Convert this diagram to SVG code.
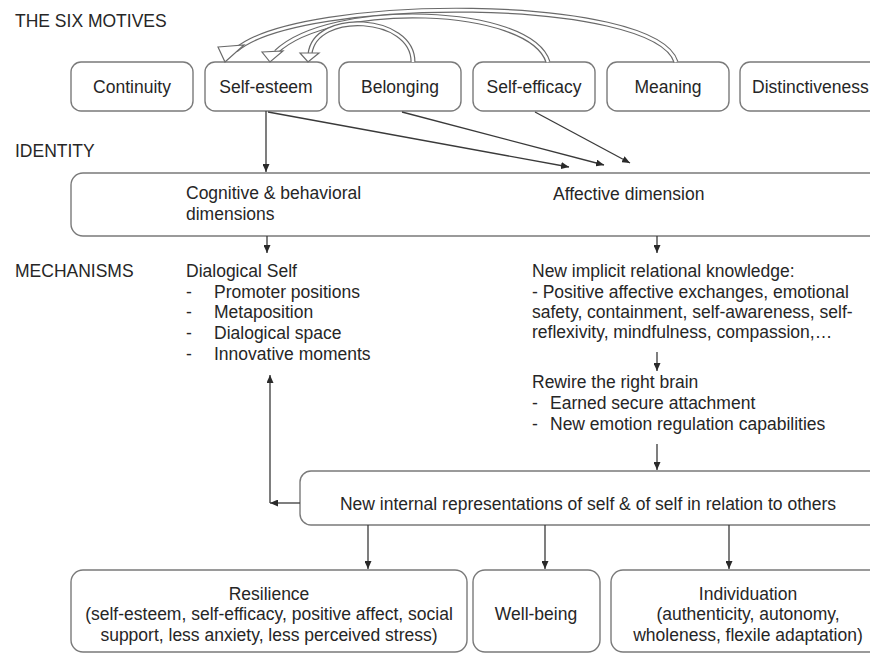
<svg xmlns="http://www.w3.org/2000/svg" width="870" height="653" viewBox="0 0 870 653">
  <style>
    text { font-family: "Liberation Sans", Arial, sans-serif; font-size: 17.5px; fill: #262626; }
    .mid { text-anchor: middle; }
    .box { fill: #ffffff; stroke: #7a7a7a; stroke-width: 1.4; }
    .conn { fill: none; stroke: #3a3a3a; stroke-width: 1.3; }
    .band-out { fill: none; stroke: #6a6a6a; stroke-width: 5; }
    .band-in { fill: none; stroke: #ffffff; stroke-width: 2.6; }
    .head { fill: #ffffff; stroke: #6a6a6a; stroke-width: 1.2; stroke-linejoin: miter; }
  </style>
  <defs>
    <marker id="arr" markerWidth="8" markerHeight="7" refX="8" refY="3.5" orient="auto" markerUnits="userSpaceOnUse">
      <path d="M0,0 L8,3.5 L0,7 z" fill="#2a2a2a"/>
    </marker>
  </defs>

  <rect width="870" height="653" fill="#ffffff"/>

  <!-- section headings -->
  <g id="headings">
    <text x="15" y="27">THE SIX MOTIVES</text>
    <text x="15" y="157">IDENTITY</text>
    <text x="15" y="277">MECHANISMS</text>
  </g>

  <!-- motive boxes -->
  <g id="continuity">
    <rect class="box" x="71" y="62" width="122" height="49" rx="10"/>
    <text class="mid" x="132" y="93">Continuity</text>
  </g>
  <g id="self-esteem">
    <rect class="box" x="205" y="62" width="122" height="49" rx="10"/>
    <text class="mid" x="266" y="93">Self-esteem</text>
  </g>
  <g id="belonging">
    <rect class="box" x="339" y="62" width="122" height="49" rx="10"/>
    <text class="mid" x="400" y="93">Belonging</text>
  </g>
  <g id="self-efficacy">
    <rect class="box" x="473" y="62" width="122" height="49" rx="10"/>
    <text class="mid" x="534" y="93">Self-efficacy</text>
  </g>
  <g id="meaning">
    <rect class="box" x="607" y="62" width="122" height="49" rx="10"/>
    <text class="mid" x="668" y="93">Meaning</text>
  </g>
  <g id="distinctiveness">
    <rect class="box" x="740" y="62" width="150" height="49" rx="10"/>
    <text x="752" y="93">Distinctiveness</text>
  </g>

  <!-- identity box -->
  <g id="identity">
    <rect class="box" x="71" y="173" width="830" height="63" rx="12"/>
    <text x="186" y="199">Cognitive &amp; behavioral</text>
    <text x="186" y="220">dimensions</text>
    <text x="553" y="200">Affective dimension</text>
  </g>

  <!-- mechanisms text blocks -->
  <g id="dialogical-self">
    <text x="186" y="277">Dialogical Self</text>
    <text x="186" y="298">-</text><text x="214" y="298">Promoter positions</text>
    <text x="186" y="318">-</text><text x="214" y="318">Metaposition</text>
    <text x="186" y="339">-</text><text x="214" y="339">Dialogical space</text>
    <text x="186" y="360">-</text><text x="214" y="360">Innovative moments</text>
  </g>
  <g id="implicit-knowledge">
    <text x="532" y="277">New implicit relational knowledge:</text>
    <text x="532" y="298">- Positive affective exchanges, emotional</text>
    <text x="532" y="318">safety, containment, self-awareness, self-</text>
    <text x="532" y="338">reflexivity, mindfulness, compassion,…</text>
  </g>
  <g id="rewire">
    <text x="532" y="388">Rewire the right brain</text>
    <text x="532" y="409">-</text><text x="550" y="409">Earned secure attachment</text>
    <text x="532" y="430">-</text><text x="550" y="430">New emotion regulation capabilities</text>
  </g>

  <!-- internal representations -->
  <g id="representations">
    <rect class="box" x="300" y="471" width="600" height="54" rx="11"/>
    <text class="mid" x="588" y="510">New internal representations of self &amp; of self in relation to others</text>
  </g>

  <!-- outcomes -->
  <g id="resilience">
    <rect class="box" x="71" y="570" width="396" height="82" rx="12"/>
    <text class="mid" x="269" y="600">Resilience</text>
    <text class="mid" x="269" y="620">(self-esteem, self-efficacy, positive affect, social</text>
    <text class="mid" x="269" y="641">support, less anxiety, less perceived stress)</text>
  </g>
  <g id="well-being">
    <rect class="box" x="473" y="570" width="127" height="82" rx="12"/>
    <text class="mid" x="536" y="620">Well-being</text>
  </g>
  <g id="individuation">
    <rect class="box" x="611" y="570" width="290" height="82" rx="12"/>
    <text class="mid" x="748" y="600">Individuation</text>
    <text class="mid" x="748" y="620">(authenticity, autonomy,</text>
    <text class="mid" x="748" y="641">wholeness, flexile adaptation)</text>
  </g>

  <!-- connectors -->
  <g id="connectors">
    <!-- curved block arrows between motives -->
    <path class="band-out" d="M676,62 C655,-5 300,-5 236,50"/>
    <path class="band-in" d="M676,62 C655,-5 300,-5 236,50"/>
    <polygon class="head" points="218,47 244,45 225,62"/>

    <path class="band-out" d="M548,62 C530,5 330,0 276,52"/>
    <path class="band-in" d="M548,62 C530,5 330,0 276,52"/>
    <polygon class="head" points="262,52 283,51 270,62"/>

    <path class="band-out" d="M413,62 C413,15 315,10 310,54"/>
    <path class="band-in" d="M413,62 C413,15 315,10 310,54"/>
    <polygon class="head" points="300,53 319,53 308,62"/>

    <!-- motives to identity -->
    <line class="conn" x1="266" y1="111" x2="266" y2="172" marker-end="url(#arr)"/>
    <line class="conn" x1="268" y1="112" x2="569" y2="167" marker-end="url(#arr)"/>
    <line class="conn" x1="402" y1="112" x2="604" y2="165" marker-end="url(#arr)"/>
    <line class="conn" x1="535" y1="112" x2="630" y2="163" marker-end="url(#arr)"/>

    <!-- identity to mechanisms -->
    <line class="conn" x1="267" y1="236" x2="267" y2="253" marker-end="url(#arr)"/>
    <line class="conn" x1="657" y1="236" x2="657" y2="253" marker-end="url(#arr)"/>
    <line class="conn" x1="657" y1="352" x2="657" y2="371" marker-end="url(#arr)"/>
    <line class="conn" x1="657" y1="444" x2="657" y2="470" marker-end="url(#arr)"/>

    <!-- representations back to dialogical self -->
    <line class="conn" x1="270" y1="503" x2="270" y2="375" marker-end="url(#arr)"/>
    <line class="conn" x1="300" y1="503" x2="270" y2="503" marker-end="url(#arr)"/>

    <!-- representations to outcomes -->
    <line class="conn" x1="368" y1="525" x2="368" y2="569" marker-end="url(#arr)"/>
    <line class="conn" x1="545" y1="525" x2="545" y2="569" marker-end="url(#arr)"/>
    <line class="conn" x1="729" y1="525" x2="729" y2="569" marker-end="url(#arr)"/>
  </g>
</svg>
